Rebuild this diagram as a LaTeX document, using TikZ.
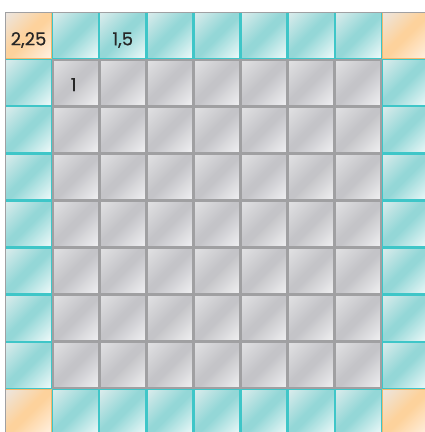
\documentclass[tikz,border=0pt]{standalone}
\usepackage{fontspec}
\setmainfont{Poppins}
\newfontfamily\lblfont{Poppins}[FakeBold=0.4]
\definecolor{gA}{HTML}{E0E0E2}
\definecolor{gB}{HTML}{C4C4C8}
\definecolor{gC}{HTML}{EFEFF1}
\definecolor{cA}{HTML}{D8EBEB}
\definecolor{cB}{HTML}{94D7D7}
\definecolor{cC}{HTML}{EDF9F9}
\definecolor{oA}{HTML}{EDE5DD}
\definecolor{oB}{HTML}{FDD29C}
\definecolor{oC}{HTML}{FFF1E2}
\definecolor{gLine}{HTML}{A0A0A2}
\definecolor{cLine}{HTML}{3FC6C8}
\definecolor{oLine}{HTML}{F3B86E}
\definecolor{txt}{HTML}{262626}
\pgfdeclarehorizontalshading{grayshade}{100bp}{color(0bp)=(gA); color(16bp)=(gA); color(46bp)=(gB); color(52bp)=(gB); color(84bp)=(gC); color(100bp)=(gC)}
\pgfdeclarehorizontalshading{cyanshade}{100bp}{color(0bp)=(cA); color(16bp)=(cA); color(46bp)=(cB); color(52bp)=(cB); color(84bp)=(cC); color(100bp)=(cC)}
\pgfdeclarehorizontalshading{orangeshade}{100bp}{color(0bp)=(oA); color(16bp)=(oA); color(46bp)=(oB); color(52bp)=(oB); color(84bp)=(oC); color(100bp)=(oC)}
\tikzset{
  tile/.style={rectangle, inner sep=0pt, minimum size=45.9pt, line width=1.2pt, shade, shading angle=-45},
  graytile/.style={tile, shading=grayshade, draw=gLine, line width=1.5pt, minimum size=45.6pt},
  cyantile/.style={tile, shading=cyanshade, draw=cLine},
  orangetile/.style={tile, shading=orangeshade, draw=oLine},
  lbl/.style={anchor=base, text=txt, font=\lblfont\fontsize{18}{20}\selectfont, inner sep=0pt},
}
\begin{document}
\begin{tikzpicture}[x=1pt,y=-1pt]
\useasboundingbox (0,0) rectangle (425,432);
\clip (0,0) rectangle (425,432);
\def\sz{47.1}
% interior
\foreach \i in {1,...,7}{
  \foreach \j in {1,...,7}{
    \node[graytile] (t-\i-\j) at ({5+(\i+0.5)*\sz},{12+(\j+0.5)*\sz}) {};
  }
}
% edges
\foreach \k in {1,...,7}{
  \node[cyantile] (t-\k-0) at ({5+(\k+0.5)*\sz},{12+0.5*\sz}) {};
  \node[cyantile] (t-\k-8) at ({5+(\k+0.5)*\sz},{12+8.5*\sz}) {};
  \node[cyantile] (t-0-\k) at ({5+0.5*\sz},{12+(\k+0.5)*\sz}) {};
  \node[cyantile] (t-8-\k) at ({5+8.5*\sz},{12+(\k+0.5)*\sz}) {};
}
% corners
\foreach \i in {0,8}{
  \foreach \j in {0,8}{
    \node[orangetile] (t-\i-\j) at ({5+(\i+0.5)*\sz},{12+(\j+0.5)*\sz}) {};
  }
}
% outer frame
\draw[gLine, line width=1pt] (5,440) -- (5,12) -- (430,12);
% labels
\node[lbl] (l225) at ([yshift=-9.8pt]t-0-0.center) {2,25};
\node[lbl] (l15) at ([yshift=-9.8pt]t-2-0.center) {1,5};
\node[lbl] (l1) at ([yshift=-8.5pt, xshift=-2pt]t-1-1.center) {1};
\end{tikzpicture}
\end{document}
